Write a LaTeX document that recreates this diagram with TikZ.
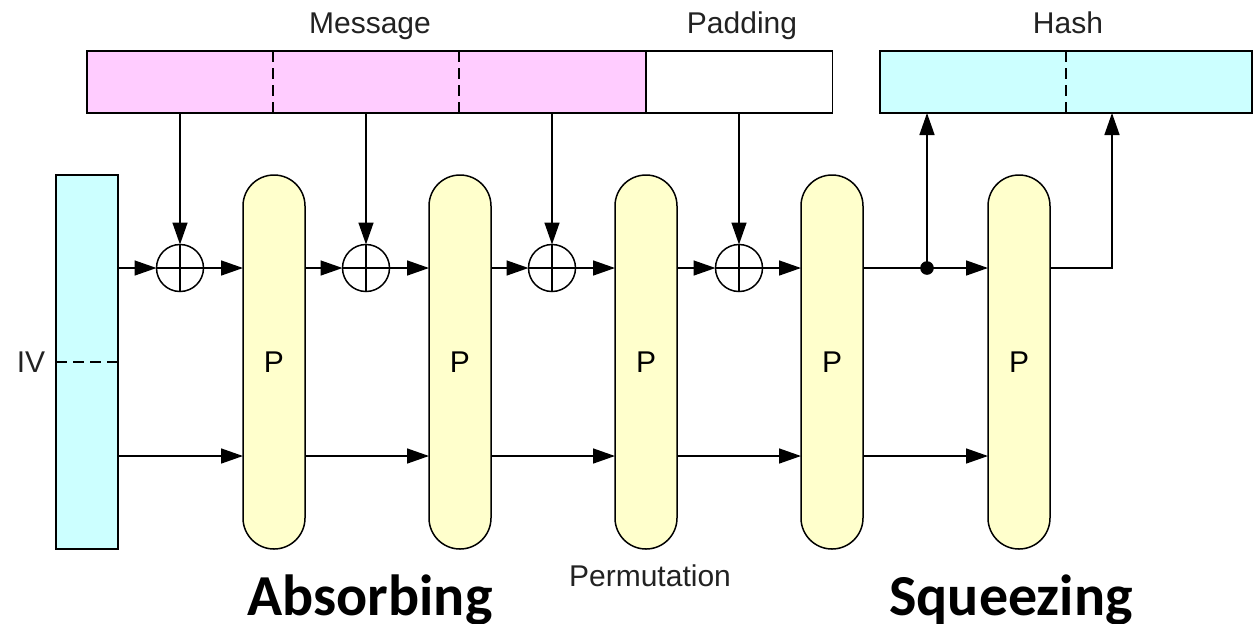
\documentclass[tikz,border=0pt]{standalone}
\usepackage{fontspec}
\setmainfont{Liberation Sans}
\newfontfamily\labelfont{Carlito}
\usetikzlibrary{arrows.meta}
\definecolor{msgpink}{HTML}{FFCCFF}
\definecolor{statecyan}{HTML}{CCFFFF}
\definecolor{permyellow}{HTML}{FFFFCC}
\definecolor{inkgray}{HTML}{222222}
\begin{document}
\begin{tikzpicture}[x=0.5pt,y=-0.5pt,
  line width=0.75pt,
  >={Triangle[length=11pt,width=7.5pt]},
  block/.style={draw,rectangle,inner sep=0pt,outer sep=0pt},
  perm/.style={draw,fill=permyellow,rectangle,rounded corners=15.5pt,
    minimum width=31pt,minimum height=187pt,inner sep=0pt,outer sep=0pt,
    font=\fontsize{15}{18}\selectfont},
  xorgate/.style={draw,circle,minimum size=23.5pt,inner sep=0pt,outer sep=0pt,
    path picture={
      \draw (path picture bounding box.north) -- (path picture bounding box.south)
            (path picture bounding box.west) -- (path picture bounding box.east);}},
  captxt/.style={font=\fontsize{15}{18}\selectfont,text=inkgray,inner sep=0pt},
  phase/.style={font=\labelfont\bfseries\fontsize{29}{34}\selectfont,inner sep=0pt,anchor=base},
  dashsep/.style={dash pattern=on 5.5pt off 3pt},
  flow/.style={->}
]
\useasboundingbox (0,0) rectangle (1259,623);

% message, padding and hash blocks
\node[block,fill=msgpink,minimum width=279.5pt,minimum height=31pt] (msg) at (366.5,82) {};
\node[block,fill=white,minimum width=93pt,minimum height=31pt] (pad) at (739.5,82) {};
\node[block,fill=statecyan,minimum width=186pt,minimum height=31pt] (hash) at (1066,82) {};
\draw[dashsep] (273,51) -- (273,113);
\draw[dashsep] (459,51) -- (459,113);
\draw[dashsep] (1066,51) -- (1066,113);

\node[captxt,anchor=base] (lmsg) at (370,33) {Message};
\node[captxt,anchor=base] (lpad) at (742,33) {Padding};
\node[captxt,anchor=base] (lhash) at (1068,33) {Hash};

% initial value
\node[block,fill=statecyan,minimum width=31pt,minimum height=187pt] (iv) at (87,362) {};
\draw[dashsep] (56,362) -- (118,362);
\node[captxt,anchor=east] (liv) at (46,362) {IV};

% permutation stages
\foreach \i/\x in {1/274,2/460,3/646,4/832,5/1019}
  \node[perm] (p\i) at (\x,362) {P};

% xor gates
\foreach \i/\x in {1/180,2/366,3/552,4/739}
  \node[xorgate] (x\i) at (\x,268) {};

% message blocks into the xor gates
\foreach \i/\x in {1/180,2/366,3/552}
  \draw[flow] (msg.south -| x\i) -- (x\i.north);
\draw[flow] (pad.south -| x4) -- (x4.north);

% upper lane
\draw[flow] (iv.east |- x1) -- (x1.west);
\draw[flow] (x1.east) -- (p1.west |- x1);
\draw[flow] (p1.east |- x2) -- (x2.west);
\draw[flow] (x2.east) -- (p2.west |- x2);
\draw[flow] (p2.east |- x3) -- (x3.west);
\draw[flow] (x3.east) -- (p3.west |- x3);
\draw[flow] (p3.east |- x4) -- (x4.west);
\draw[flow] (x4.east) -- (p4.west |- x4);

% squeezing outputs
\coordinate (tap) at (927,268);
\coordinate (turn) at (1112,268);
\draw[flow] (p4.east |- tap) -- (p5.west |- tap);
\fill (tap) circle (3.4pt);
\draw[flow] (tap) -- (tap |- hash.south);
\draw[flow] (p5.east |- turn) -- (turn) -- (turn |- hash.south);

% lower lane
\coordinate (low) at (0,456);
\draw[flow] (iv.east |- low) -- (p1.west |- low);
\draw[flow] (p1.east |- low) -- (p2.west |- low);
\draw[flow] (p2.east |- low) -- (p3.west |- low);
\draw[flow] (p3.east |- low) -- (p4.west |- low);
\draw[flow] (p4.east |- low) -- (p5.west |- low);

% captions
\node[captxt,anchor=base] (lperm) at (650,586) {Permutation};
\node[phase] (labs) at (370,615) {Absorbing};
\node[phase] (lsqz) at (1011,615) {Squeezing};
\end{tikzpicture}
\end{document}
